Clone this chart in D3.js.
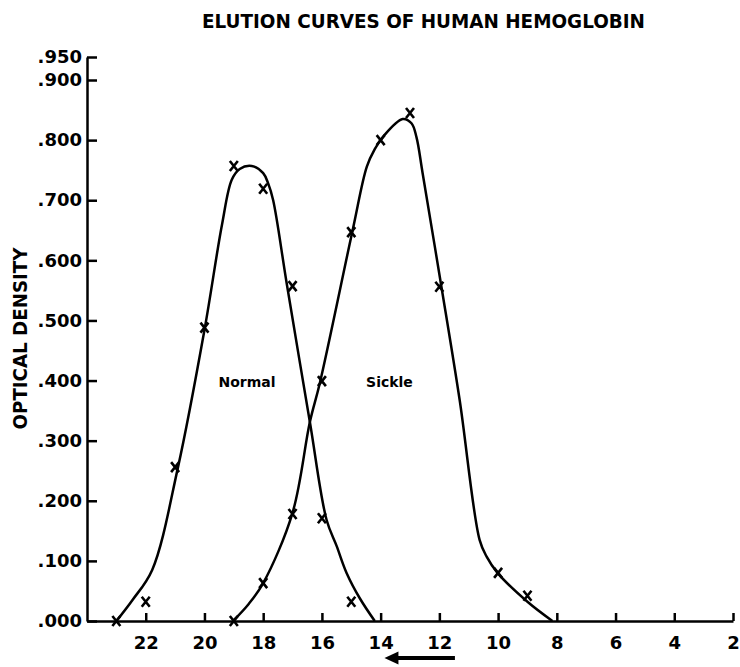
<!DOCTYPE html>
<html>
<head>
<meta charset="utf-8">
<script src="https://cdn.jsdelivr.net/npm/d3@7"></script>
<style>
  body { margin: 0; background: #fff; }
  text { font-family: "DejaVu Sans", sans-serif; font-weight: bold; fill: #000; }
</style>
</head>
<body>
<script>
// elution curves - normal vs sickle hemoglobin

var width = 740;
var height = 667;

// measured points (tube number, optical density)
var normalTubes = [23, 22, 21, 20, 19, 18, 17, 16, 15];
var normalDensity = [0.000, 0.032, 0.256, 0.488, 0.757, 0.719, 0.557, 0.171, 0.032];

var sickleTubes = [19, 18, 17, 16, 15, 14, 13, 12, 10, 9];
var sickleDensity = [0.000, 0.063, 0.178, 0.399, 0.647, 0.800, 0.845, 0.556, 0.080, 0.042];

// hand drawn fitted curves
var normalCurveX = [23, 22.45, 21.78, 20.9, 20, 19.4, 19.07, 18.8, 18.39, 18.0, 17.83, 17.66, 17.2, 16.41, 15.84, 15.5, 15.16, 14.7, 14.2];
var normalCurveY = [0, 0.035, 0.085, 0.256, 0.484, 0.66, 0.734, 0.752, 0.757, 0.745, 0.728, 0.70, 0.562, 0.331, 0.168, 0.125, 0.08, 0.037, 0];

var sickleCurveX = [19.03, 18.5, 18.0, 17.0, 16.41, 16.07, 14.95, 14.47, 14.2, 13.91, 13.25, 12.95, 12.78, 12.57, 11.93, 11.31, 10.63, 10.39, 10.02, 9.0, 8.15];
var sickleCurveY = [0, 0.028, 0.063, 0.18, 0.331, 0.396, 0.651, 0.756, 0.785, 0.806, 0.835, 0.828, 0.805, 0.745, 0.556, 0.368, 0.135, 0.107, 0.08, 0.032, 0];

var xTicks = [22, 20, 18, 16, 14, 12, 10, 8, 6, 4, 2];
var yTicks = [0, 0.1, 0.2, 0.3, 0.4, 0.5, 0.6, 0.7, 0.8, 0.9, 0.95];

var titleText = "ELUTION CURVES OF HUMAN HEMOGLOBIN";
var yLabel = "OPTICAL DENSITY";

var svg = d3.select("body").append("svg")
	.attr("width", width)
	.attr("height", height);

svg.append("rect")
	.attr("width", width)
	.attr("height", height)
	.attr("fill", "#fff");

var x = d3.scaleLinear().domain([24, 2]).range([87, 733]);
// top of the hand drawn axis is squeezed a bit
var y = d3.scaleLinear().domain([0, 0.9, 0.95]).range([621, 80, 57]);

// axes
var xAxis = svg.append("g")
	.attr("transform", "translate(0," + y(0) + ")")
	.call(d3.axisBottom(x).tickValues(xTicks).tickSizeInner(-8).tickSizeOuter(0).tickPadding(15)
		.tickFormat(d3.format("d")));

var yAxis = svg.append("g")
	.attr("transform", "translate(" + x(24) + ",0)")
	.call(d3.axisLeft(y).tickValues(yTicks).tickSizeInner(-10).tickSizeOuter(0).tickPadding(5)
		.tickFormat(function(d) { return d3.format(".3f")(d).replace(/^0/, ""); }));

svg.selectAll(".domain, .tick line")
	.attr("stroke", "#000")
	.attr("stroke-width", 2.5);

svg.selectAll(".tick text")
	.style("font-family", "'DejaVu Sans', sans-serif")
	.style("font-weight", "bold")
	.style("font-size", "18px")
	.attr("fill", "#000");

// curves
var line = d3.line()
	.x(function(d) { return x(d[0]); })
	.y(function(d) { return y(d[1]); })
	.curve(d3.curveCatmullRom.alpha(0.5));

svg.append("path")
	.datum(d3.zip(normalCurveX, normalCurveY))
	.attr("d", line)
	.attr("fill", "none")
	.attr("stroke", "#000")
	.attr("stroke-width", 2.5);

svg.append("path")
	.datum(d3.zip(sickleCurveX, sickleCurveY))
	.attr("d", line)
	.attr("fill", "none")
	.attr("stroke", "#000")
	.attr("stroke-width", 2.5);

// x markers
var points = d3.zip(normalTubes, normalDensity).concat(d3.zip(sickleTubes, sickleDensity));

svg.selectAll(".mark")
	.data(points)
	.enter().append("path")
	.attr("class", "mark")
	.attr("transform", function(d) { return "translate(" + x(d[0]) + "," + y(d[1]) + ")"; })
	.attr("d", "M-4,-5L4,5M4,-5L-4,5")
	.attr("stroke", "#000")
	.attr("stroke-width", 2.6)
	.attr("fill", "none");

// labels
svg.append("text")
	.attr("x", x(18.55))
	.attr("y", y(0.398))
	.attr("text-anchor", "middle")
	.attr("dy", "0.35em")
	.style("font-size", "14px")
	.text("Normal");

svg.append("text")
	.attr("x", x(13.7))
	.attr("y", y(0.398))
	.attr("text-anchor", "middle")
	.attr("dy", "0.35em")
	.style("font-size", "14px")
	.text("Sickle");

svg.append("text")
	.attr("x", 423.5)
	.attr("y", 28)
	.attr("text-anchor", "middle")
	.attr("textLength", 443)
	.attr("lengthAdjust", "spacingAndGlyphs")
	.style("font-size", "20px")
	.text(titleText);

svg.append("text")
	.attr("transform", "translate(27," + y(0.47) + ") rotate(-90)")
	.attr("text-anchor", "middle")
	.attr("textLength", 182)
	.attr("lengthAdjust", "spacingAndGlyphs")
	.style("font-size", "19px")
	.text(yLabel);

// direction arrow under the axis
svg.append("line")
	.attr("x1", x(11.47))
	.attr("x2", x(13.6))
	.attr("y1", 658)
	.attr("y2", 658)
	.attr("stroke", "#000")
	.attr("stroke-width", 4);

svg.append("path")
	.attr("d", "M" + x(13.87) + ",658L" + (x(13.87) + 14) + ",651.5L" + (x(13.87) + 14) + ",664.5Z")
	.attr("fill", "#000");
</script>
</body>
</html>
